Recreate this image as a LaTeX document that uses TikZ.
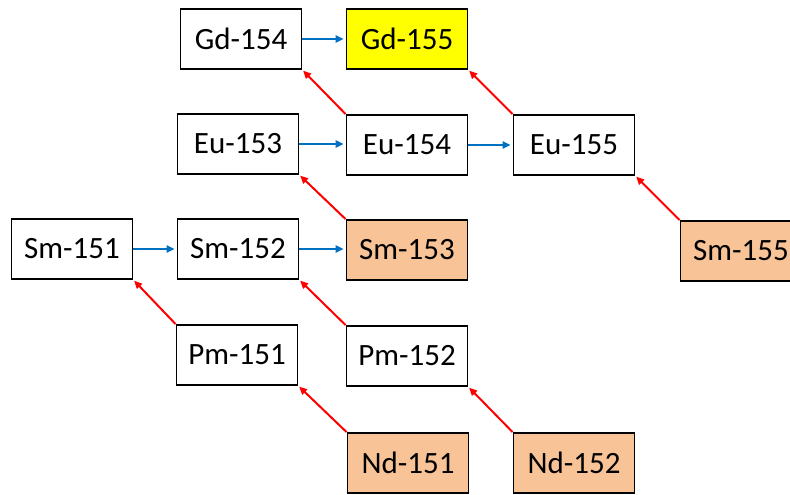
\documentclass[tikz,border=0pt]{standalone}
\usepackage{fontspec}
\setmainfont{Carlito}
\usetikzlibrary{arrows.meta}
\definecolor{nucorange}{RGB}{248,195,150}
\definecolor{nucblue}{RGB}{0,112,192}
\definecolor{nucyellow}{RGB}{255,255,0}
\begin{document}
\begin{tikzpicture}[x=1pt,y=-1pt,
  nuc/.style={draw=black,line width=1.8pt,fill=white,minimum width=121pt,minimum height=60pt,inner sep=0pt,font=\fontsize{31}{37}\selectfont},
  hot/.style={nuc,fill=nucorange},
  goal/.style={nuc,fill=nucyellow},
  capture/.style={draw=nucblue,line width=2pt,-{Triangle[length=8pt,width=7pt]},shorten >=2pt},
  decay/.style={draw=red,line width=2pt,-{Triangle[length=8pt,width=7pt]},shorten >=1pt}]
\clip (0,0) rectangle (790,495);
\fill[white] (0,0) rectangle (790,495);
\node[nuc]  (gd154) at (241,39)  {Gd-154};
\node[goal] (gd155) at (407,39)  {Gd-155};
\node[nuc]  (eu153) at (238,144) {Eu-153};
\node[nuc]  (eu154) at (407,145) {Eu-154};
\node[nuc]  (eu155) at (574,145) {Eu-155};
\node[nuc]  (sm151) at (72,249)  {Sm-151};
\node[nuc]  (sm152) at (238,249) {Sm-152};
\node[hot]  (sm153) at (407,250) {Sm-153};
\node[hot]  (sm155) at (741,251) {Sm-155};
\node[nuc]  (pm151) at (237,355) {Pm-151};
\node[nuc]  (pm152) at (407,356) {Pm-152};
\node[hot]  (nd151) at (408,463) {Nd-151};
\node[hot]  (nd152) at (574,463) {Nd-152};
\draw[capture] (gd154.east) -- (gd155.west);
\draw[capture] (eu153.east) -- (eu154.west |- eu153.east);
\draw[capture] (eu154.east) -- (eu155.west);
\draw[capture] (sm151.east) -- (sm152.west);
\draw[capture] (sm152.east) -- (sm153.west |- sm152.east);
\draw[decay] (eu154.north west) -- (gd154.south east);
\draw[decay] (eu155.north west) -- (gd155.south east);
\draw[decay] (sm153.north west) -- (eu153.south east);
\draw[decay] (sm155.north west) -- (eu155.south east);
\draw[decay] (pm151.north west) -- (sm151.south east);
\draw[decay] (pm152.north west) -- (sm152.south east);
\draw[decay] (nd151.north west) -- (pm151.south east);
\draw[decay] (nd152.north west) -- (pm152.south east);
\end{tikzpicture}
\end{document}
